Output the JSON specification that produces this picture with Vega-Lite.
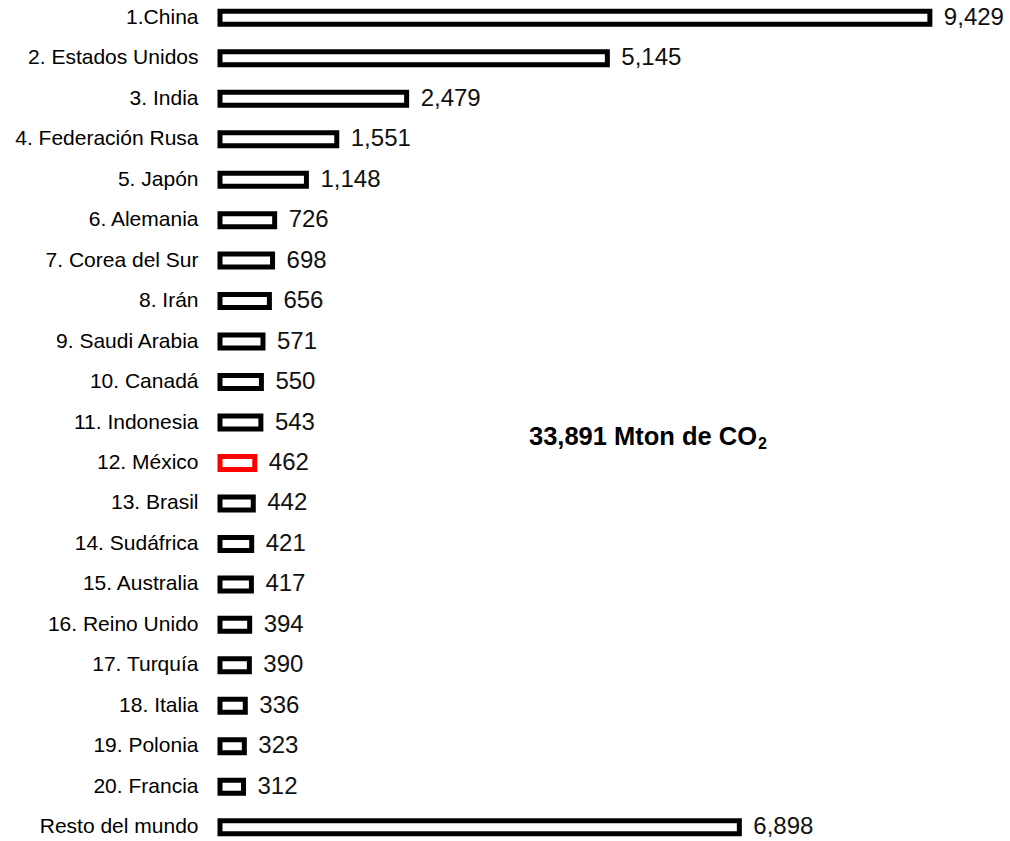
{
  "$schema": "https://vega.github.io/schema/vega-lite/v6.json",
  "autosize": "none",
  "padding": {"left": 220, "top": 0, "right": 0, "bottom": 0},
  "width": 789,
  "height": 841,
  "background": "white",
  "config": {"view": {"stroke": null}, "font": "Liberation Sans"},
  "data": {"values": [
    {"pais": "1.China", "v": 9429},
    {"pais": "2. Estados Unidos", "v": 5145},
    {"pais": "3. India", "v": 2479},
    {"pais": "4. Federación Rusa", "v": 1551},
    {"pais": "5. Japón", "v": 1148},
    {"pais": "6. Alemania", "v": 726},
    {"pais": "7. Corea del Sur", "v": 698},
    {"pais": "8. Irán", "v": 656},
    {"pais": "9. Saudi Arabia", "v": 571},
    {"pais": "10. Canadá", "v": 550},
    {"pais": "11. Indonesia", "v": 543},
    {"pais": "12. México", "v": 462},
    {"pais": "13. Brasil", "v": 442},
    {"pais": "14. Sudáfrica", "v": 421},
    {"pais": "15. Australia", "v": 417},
    {"pais": "16. Reino Unido", "v": 394},
    {"pais": "17. Turquía", "v": 390},
    {"pais": "18. Italia", "v": 336},
    {"pais": "19. Polonia", "v": 323},
    {"pais": "20. Francia", "v": 312},
    {"pais": "Resto del mundo", "v": 6898}
  ]},
  "encoding": {
    "y": {
      "field": "pais", "type": "nominal", "sort": null,
      "scale": {"type": "band", "range": [0, 845], "paddingInner": 0.5, "paddingOuter": 0.19},
      "axis": {"title": null, "ticks": false, "domain": false, "labelPadding": 22, "labelFontSize": 21, "labelColor": "#000", "labelFont": "Liberation Sans", "labelLimit": 400}
    }
  },
  "layer": [
    {
      "mark": {"type": "bar", "size": 13, "strokeWidth": 5, "fill": "white"},
      "encoding": {
        "x": {"field": "v", "type": "quantitative", "scale": {"domain": [0, 10480], "nice": false, "zero": true}, "axis": null},
        "stroke": {"condition": {"test": "datum.pais === '12. México'", "value": "#ff0000"}, "value": "#000000"}
      }
    },
    {
      "mark": {"type": "text", "align": "left", "baseline": "middle", "dx": 14, "fontSize": 24, "color": "#111"},
      "encoding": {
        "x": {"field": "v", "type": "quantitative"},
        "text": {"field": "v", "type": "quantitative", "format": ","}
      }
    },
    {
      "data": {"values": [{"t": "33,891 Mton de CO", "x": 4104, "p": "11. Indonesia"}]},
      "mark": {"type": "text", "align": "left", "baseline": "middle", "dy": 14, "fontSize": 25.5, "fontWeight": "bold", "color": "#000"},
      "encoding": {
        "x": {"field": "x", "type": "quantitative"},
        "y": {"field": "p", "type": "nominal"},
        "text": {"field": "t"}
      }
    },
    {
      "data": {"values": [{"t": "2", "x": 4104, "p": "11. Indonesia"}]},
      "mark": {"type": "text", "align": "left", "baseline": "middle", "dx": 229, "dy": 21, "fontSize": 16, "fontWeight": "bold", "color": "#000"},
      "encoding": {
        "x": {"field": "x", "type": "quantitative"},
        "y": {"field": "p", "type": "nominal"},
        "text": {"field": "t"}
      }
    }
  ]
}
